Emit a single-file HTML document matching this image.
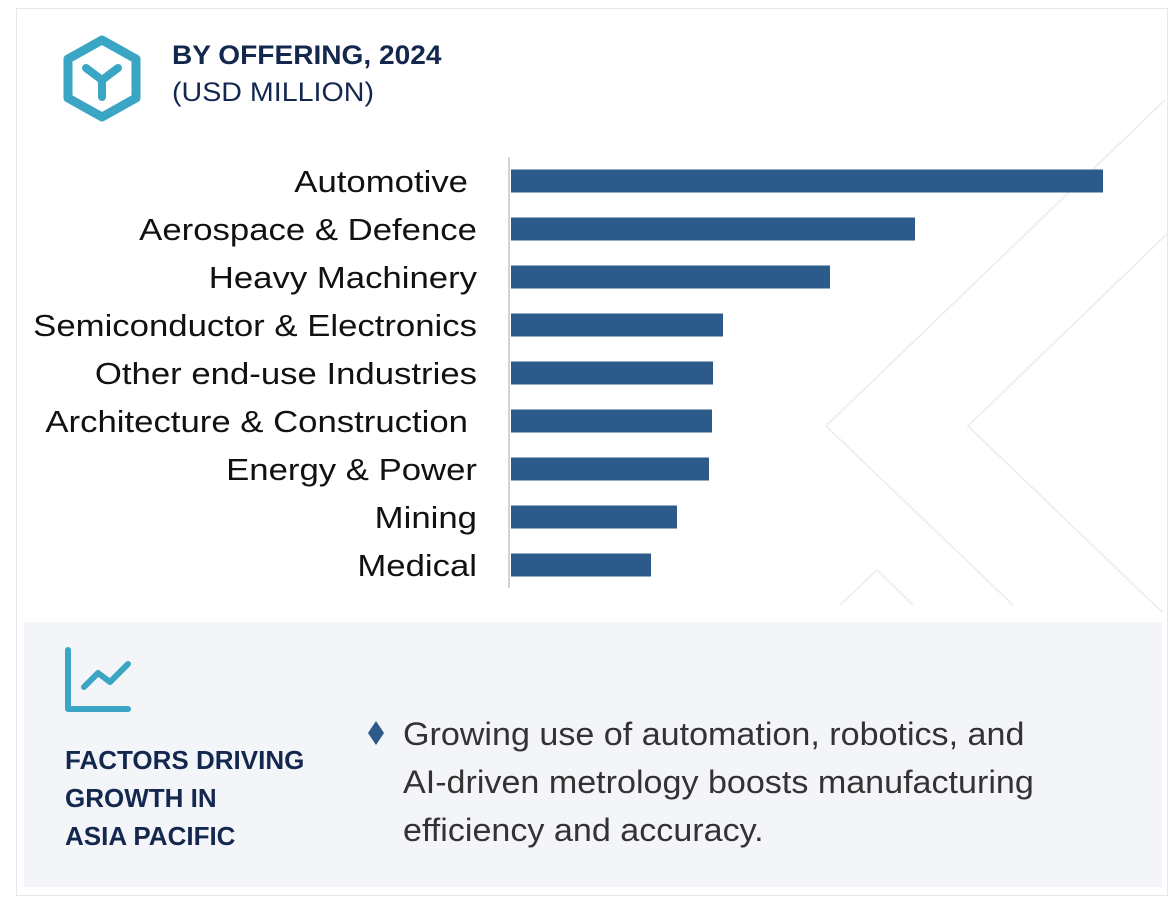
<!DOCTYPE html>
<html><head><meta charset="utf-8"><style>
body{margin:0;width:1170px;height:897px;background:#fff;font-family:"Liberation Sans",Arial,sans-serif;overflow:hidden}
svg{position:absolute;left:0;top:0}
</style></head><body>
<svg width="1170" height="897">
<rect x="16.5" y="8.5" width="1151" height="887" fill="#fff" stroke="#e4e6ea"/>
<g fill="none" stroke="#eef0f2" stroke-width="2">
<polyline points="1165,100 826,426 1013,605"/>
<polyline points="1168,233 968,426 1162,612"/>
<polyline points="840,605 877,570 913,605"/>
</g>
<g fill="none" stroke="#3aa6c4" stroke-linecap="round" stroke-linejoin="round">
<polygon points="102,40 136,59 136,98 102,117 68,98 68,59" stroke-width="9"/>
<path d="M86,68 L102,80 L118,68 M102,80 L102,97" stroke-width="8"/>
</g>
<text class="st" data-k="1.04" x="172" y="64" font-size="27" font-weight="bold" fill="#14284f">BY OFFERING, 2024</text>
<text class="st" data-k="1.06" x="172" y="101" font-size="27" fill="#14284f">(USD MILLION)</text>
<g id="plot"></g>
<rect x="24" y="622" width="1138" height="265" fill="#f3f5f9"/>
<g fill="none" stroke="#3aa6c4" stroke-width="6" stroke-linecap="round" stroke-linejoin="round">
<path d="M68,650 L68,709 L128,709"/>
<path d="M84,687 L98,673 L110,682 L128,664"/>
</g>
<g font-size="26" font-weight="bold" fill="#14284f">
<text x="65" y="769">FACTORS DRIVING</text>
<text x="65" y="807">GROWTH IN</text>
<text x="65" y="845">ASIA PACIFIC</text>
</g>
<polygon points="376,721 384,733 376,745 368,733" fill="#2c5b8a"/>
<g font-size="32" fill="#333">
<text class="st" data-k="1.065" x="403" y="745">Growing use of automation, robotics, and</text>
<text class="st" data-k="1.065" x="403" y="793">AI-driven metrology boosts manufacturing</text>
<text class="st" data-k="1.065" x="403" y="841">efficiency and accuracy.</text>
</g>
</svg>
<script>
const categories=["Automotive","Aerospace & Defence","Heavy Machinery","Semiconductor & Electronics","Other end-use Industries","Architecture & Construction","Energy & Power","Mining","Medical"];
const values=[592,404,319,212,202,201,198,166,140];
const x0=511,scale=1,top0=157,step=48,barH=23;
function xs(v){return x0+v*scale;}
function yc(i){return top0+step/2+i*step;}
const ns="http://www.w3.org/2000/svg",g=document.getElementById("plot");
const ax=document.createElementNS(ns,"line");
ax.setAttribute("x1",509);ax.setAttribute("x2",509);ax.setAttribute("y1",157);ax.setAttribute("y2",588);ax.setAttribute("stroke","#d0d3d8");ax.setAttribute("stroke-width",2);


g.appendChild(ax);
categories.forEach((c,i)=>{
  const r=document.createElementNS(ns,"rect");
  r.setAttribute("x",x0);r.setAttribute("y",yc(i)-barH/2);r.setAttribute("width",xs(values[i])-x0);r.setAttribute("height",barH);r.setAttribute("fill","#2c5b8a");
  
  
  g.appendChild(r);
  const t=document.createElementNS(ns,"text");
  const endX=(c==="Automotive"||c==="Architecture & Construction")?468:477;
  t.setAttribute("x",endX);t.setAttribute("y",yc(i)+11);t.setAttribute("text-anchor","end");t.setAttribute("font-size","31");t.setAttribute("fill","#111");
  t.setAttribute("class","st");t.setAttribute("data-k","1.12");
  t.textContent=c;
  
  
  g.appendChild(t);
});
document.querySelectorAll("text.st").forEach(el=>{
  const k=parseFloat(el.getAttribute("data-k"));
  const w=el.getComputedTextLength();
  el.setAttribute("textLength",(w*k).toFixed(1));
  el.setAttribute("lengthAdjust","spacingAndGlyphs");
});
</script>
</body></html>
